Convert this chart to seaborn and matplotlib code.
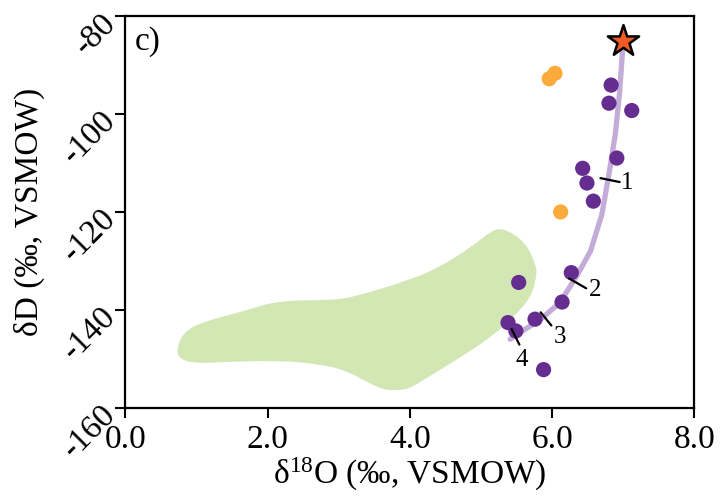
import matplotlib
matplotlib.use("Agg")
import matplotlib.pyplot as plt
import seaborn as sns
import pandas as pd
from matplotlib.path import Path
from matplotlib.patches import PathPatch

# ---- data ----
purple_x = [7.12, 6.83, 6.80, 6.91, 6.43, 6.49, 6.58, 6.27, 5.53, 6.14, 5.76, 5.38, 5.49, 5.88]
purple_y = [-99.3, -94.1, -97.8, -109.0, -111.1, -114.1, -117.8, -132.4, -134.4, -138.4, -141.9, -142.6, -144.3, -152.2]

orange_x = [5.96, 6.04, 6.12]
orange_y = [-92.8, -91.7, -120.0]

star_x = [7.00]
star_y = [-85.1]

curve_x = [7.00, 6.95, 6.89, 6.80, 6.70, 6.54, 6.35, 6.11, 5.83, 5.55, 5.41]
curve_y = [-85.1, -95.5, -104.0, -112.2, -120.5, -128.0, -133.0, -138.5, -142.05, -144.6, -146.0]

blob_x = [0.72, 0.84, 1.14, 1.61, 2.13, 2.92, 3.20, 3.96, 4.42, 4.89, 5.13, 5.30, 5.62, 5.78,
          5.78, 5.70, 5.45, 5.13, 4.71, 4.14, 3.96, 3.67, 3.44, 3.11, 2.74, 2.13, 1.33, 0.95, 0.75]
blob_y = [-147.6, -144.2, -142.2, -140.5, -138.1, -138.0, -137.4, -134.1, -131.3, -126.9, -124.0, -123.2, -126.0, -131.0,
          -133.4, -137.5, -141.6, -145.7, -149.7, -154.8, -156.3, -156.5, -155.1, -152.4, -151.1, -150.3, -150.7, -150.9, -149.9]

mark_labels = ["1", "2", "3", "4"]
mark_x0 = [6.68, 6.24, 5.84, 5.43]
mark_y0 = [-113.1, -133.6, -140.5, -143.9]
mark_x1 = [6.95, 6.48, 5.99, 5.54]
mark_y1 = [-113.9, -135.6, -143.2, -147.1]
label_x = [7.06, 6.60, 6.11, 5.57]
label_y = [-114.0, -136.0, -145.5, -150.3]

xticks = [0.0, 2.0, 4.0, 6.0, 8.0]
yticks = [-160, -140, -120, -100, -80]

# ---- style ----
sns.set_style("ticks")
plt.rcParams['font.family'] = ['Liberation Serif', 'DejaVu Serif']
plt.rcParams['mathtext.default'] = 'regular'
for k in ['text.color', 'axes.labelcolor', 'xtick.color', 'ytick.color', 'axes.edgecolor']:
    plt.rcParams[k] = 'black'

fig = plt.figure(figsize=(7.21, 5.01), dpi=100)
ax = fig.add_axes([0.174, 0.186, 0.789, 0.782])

# smooth closed outline: vertices used as quadratic Bezier control points
pts = list(zip(blob_x, blob_y))
n = len(pts)
mids = [((pts[i][0] + pts[(i + 1) % n][0]) / 2, (pts[i][1] + pts[(i + 1) % n][1]) / 2) for i in range(n)]
verts = [mids[-1]]
codes = [Path.MOVETO]
for i in range(n):
    verts += [pts[i], mids[i]]
    codes += [Path.CURVE3, Path.CURVE3]
verts.append(mids[-1])
codes.append(Path.CLOSEPOLY)
ax.add_patch(PathPatch(Path(verts, codes), facecolor='#d3e7b5', edgecolor='none', zorder=1))

curve_df = pd.DataFrame({'x': curve_x, 'y': curve_y})
sns.lineplot(data=curve_df, x='x', y='y', sort=False, ax=ax, color='#c4acd8',
             linewidth=3.8, zorder=2)

for x0, y0, x1, y1 in zip(mark_x0, mark_y0, mark_x1, mark_y1):
    ax.plot([x0, x1], [y0, y1], color='black', linewidth=1.6, zorder=4)
for lab, lx, ly in zip(mark_labels, label_x, label_y):
    ax.text(lx, ly, lab, fontsize=18, ha='center', va='center', zorder=4)

pdf = pd.DataFrame({'x': purple_x, 'y': purple_y})
sns.scatterplot(data=pdf, x='x', y='y', ax=ax, color='#662d91', s=120,
                edgecolor='none', zorder=3)
odf = pd.DataFrame({'x': orange_x, 'y': orange_y})
sns.scatterplot(data=odf, x='x', y='y', ax=ax, color='#fbab3c', s=120,
                edgecolor='none', zorder=3)
sdf = pd.DataFrame({'x': star_x, 'y': star_y})
sns.scatterplot(data=sdf, x='x', y='y', ax=ax, marker='*', color='#f15a24', s=560,
                edgecolor='black', linewidth=1.8, zorder=5)

ax.set_xlim(0, 8)
ax.set_ylim(-160, -80)
ax.set_xticks(xticks)
ax.set_xticklabels([f"{v:.1f}" for v in xticks], fontsize=24)
ax.set_yticks(yticks)
ax.set_yticklabels([str(v) for v in yticks], fontsize=24, rotation=45,
                   ha='right', rotation_mode='anchor')
ax.tick_params(axis='both', direction='out', length=7, width=1.5, color='black')
ax.tick_params(axis='x', pad=5)
ax.tick_params(axis='y', pad=5)
for sp in ax.spines.values():
    sp.set_linewidth(1.6)
    sp.set_color('black')

ax.set_xlabel(r"δ$^{18}$O (‰, VSMOW)", fontsize=24, labelpad=1)
ax.set_ylabel("δD (‰, VSMOW)", fontsize=24, labelpad=9)
ax.text(0.016, 0.936, "c)", transform=ax.transAxes, fontsize=24, ha='left', va='center')

fig.savefig("out.png", dpi=100)
